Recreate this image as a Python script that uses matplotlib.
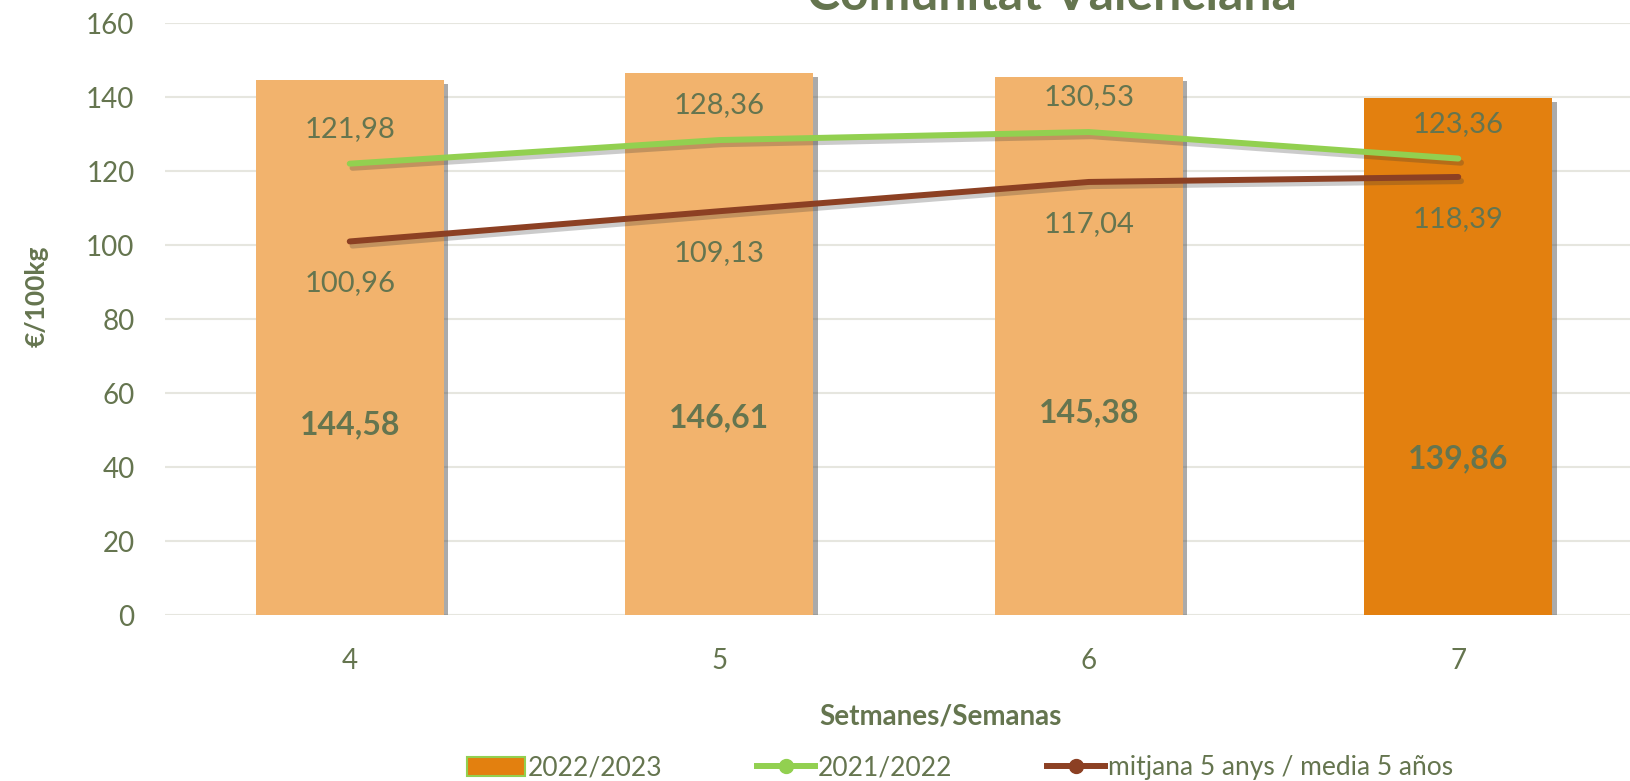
import matplotlib.pyplot as plt
import matplotlib.patheffects as pe
import numpy as np

weeks = ['4', '5', '6', '7']
price_2023 = [144.58, 146.61, 145.38, 139.86]
price_2022 = [121.98, 128.36, 130.53, 123.36]
avg_5y = [100.96, 109.13, 117.04, 118.39]
yticks = [0, 20, 40, 60, 80, 100, 120, 140, 160]

# where Excel put the bold bar labels (data units)
bar_label_y = [51.3, 53.3, 54.7, 42.1]

TXT = '#65754F'
LIGHT = '#F2B36D'
DARK = '#E3800F'
GREEN = '#92D050'
BROWN = '#8C4023'

plt.rcParams['font.family'] = ['Lato', 'DejaVu Sans']

fig = plt.figure(figsize=(16.3, 7.81), dpi=100)
ax = fig.add_axes([165 / 1630, 1 - 615 / 781, 1478 / 1630, (615 - 23) / 781])

x = np.arange(len(weeks))
colors = [LIGHT] * (len(weeks) - 1) + [DARK]
bars = ax.bar(x, price_2023, width=0.51, color=colors, zorder=2)
for b in bars:
    b.set_path_effects([pe.SimplePatchShadow(offset=(3, -3), shadow_rgbFace='#444444', alpha=0.45), pe.Normal()])

shadow = [pe.SimpleLineShadow(offset=(2, -3), shadow_color='#333333', alpha=0.25), pe.Normal()]
ax.plot(x, price_2022, color=GREEN, lw=4.3, solid_capstyle='round', zorder=3, path_effects=shadow)
ax.plot(x, avg_5y, color=BROWN, lw=4.3, solid_capstyle='round', zorder=3, path_effects=shadow)

fmt = lambda v: f'{v:.2f}'.replace('.', ',')
for i in range(len(weeks)):
    ax.text(x[i], bar_label_y[i], fmt(price_2023[i]), ha='center', va='center',
            fontsize=23, fontweight='bold', color=TXT, zorder=4)
    ax.annotate(fmt(price_2022[i]), (x[i], price_2022[i]), xytext=(0, 25), textcoords='offset points',
                ha='center', va='center', fontsize=21, color=TXT, zorder=4)
    ax.annotate(fmt(avg_5y[i]), (x[i], avg_5y[i]), xytext=(0, -30), textcoords='offset points',
                ha='center', va='center', fontsize=21, color=TXT, zorder=4)

ax.set_xlim(-0.5, 3.5)
ax.set_ylim(0, 160)
ax.set_yticks(yticks)
ax.set_xticks(x)
ax.set_xticklabels(weeks)
ax.tick_params(length=0, labelsize=20, colors=TXT)
ax.tick_params(axis='y', pad=22)
ax.tick_params(axis='x', pad=24)
ax.grid(axis='y', color='#E6E6DF', lw=1.5, zorder=0)
for s in ax.spines.values():
    s.set_visible(False)

fig.text(37 / 1630, 1 - 296 / 781, '€/100kg', rotation=90, ha='center', va='center',
         fontsize=19, fontweight='bold', color=TXT)
fig.text(941 / 1630, 1 - 717 / 781, 'Setmanes/Semanas', ha='center', va='center',
         fontsize=20, fontweight='bold', color=TXT)
fig.text(1052 / 1630, 1 - 10 / 781, 'Comunitat Valenciana', ha='center', va='baseline',
         fontsize=36, fontweight='bold', color=TXT)

handles = [
    plt.Rectangle((0, 0), 1, 1, facecolor=DARK, edgecolor=GREEN, lw=1.5),
    plt.Line2D([], [], color=GREEN, lw=4.3, marker='o', markersize=10),
    plt.Line2D([], [], color=BROWN, lw=4.3, marker='o', markersize=10),
]
labels = ['2022/2023', '2021/2022', 'mitjana 5 anys / media 5 años']
fig.legend(handles, labels, loc='center', bbox_to_anchor=(960 / 1630, 1 - 768 / 781), ncol=3,
           frameon=False, fontsize=19, labelcolor=TXT, handlelength=2.2, handletextpad=0.1,
           columnspacing=3.6, borderpad=0)

fig.savefig('out.png', dpi=100)
